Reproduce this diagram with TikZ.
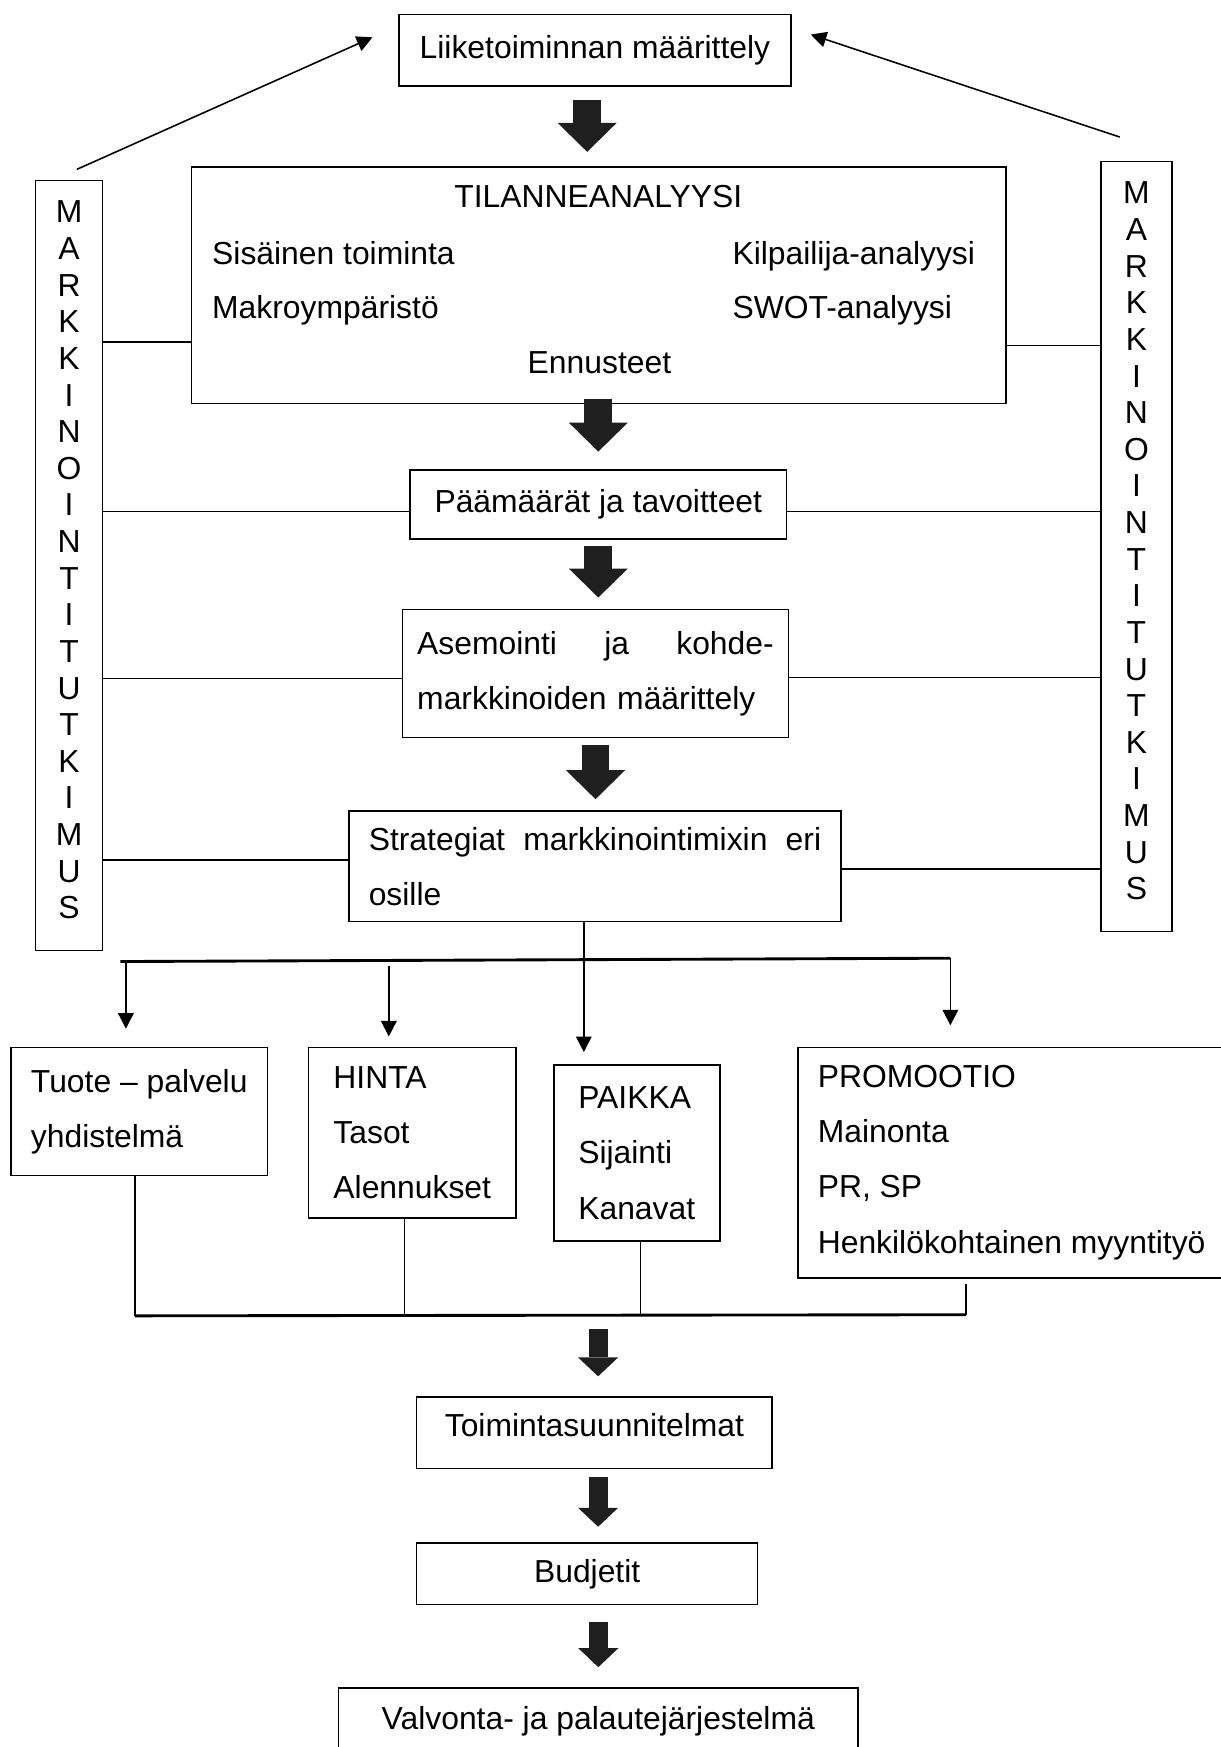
\documentclass[tikz,border=0pt]{standalone}
\usepackage{fontspec}
\setmainfont{Liberation Sans}
\usetikzlibrary{arrows.meta}

\newcommand{\tutkimus}{M\\A\\R\\K\\K\\I\\N\\O\\I\\N\\T\\I\\T\\U\\T\\K\\I\\M\\U\\S}

\tikzset{
  box/.style={draw, line width=0.6pt, inner sep=0pt, align=left},
  link/.style={line width=0.6pt},
  bus/.style={line width=1.1pt},
  bigarrow/.style={draw=black!88, line width=0.375cm,
    -{Triangle[length=0.39cm, width=0.795cm, line width=0pt]}},
  smallarrow/.style={draw=black!88, line width=0.255cm,
    -{Triangle[length=0.255cm, width=0.54cm, line width=0pt]}},
  drop/.style={line width=0.6pt, -{Triangle[length=0.21cm, width=0.21cm]}},
  txt/.style={inner sep=0pt, anchor=base west},
  letters/.style={draw, line width=0.6pt, align=center, minimum height=10.365cm,
    text depth=0.15cm, font=\fontsize{12.2pt}{14.03pt}\selectfont}
}

\begin{document}
\begin{tikzpicture}[x=0.015cm, y=-0.015cm, font=\fontsize{12.2pt}{21.1pt}\selectfont]
\useasboundingbox (0,0) rectangle (1095,1568);

% main column
\node[box, minimum width=5.28cm, minimum height=0.96cm] (liike) at (534,45) {Liiketoiminnan määrittely};
\node[box, minimum width=10.965cm, minimum height=3.18cm] (tilanne) at (537.5,256) {};
\node[txt, anchor=base] (tHead) at (537,186) {TILANNEANALYYSI};
\node[txt] (tSis) at (190,237) {Sisäinen toiminta};
\node[txt] (tKil) at (657,237) {Kilpailija-analyysi};
\node[txt] (tMak) at (190,286) {Makroympäristö};
\node[txt] (tSwot) at (657,286) {SWOT-analyysi};
\node[txt, anchor=base] (tEnn) at (538,335) {Ennusteet};
\node[box, minimum width=5.07cm, minimum height=0.93cm] (paamaarat) at (537,453) {Päämäärät ja tavoitteet};
\node[box, text width=4.8cm, inner xsep=0.2cm, minimum height=1.725cm] (asemointi) at (534.5,604.5)
  {Asemointi\hfill ja\hfill kohde-\\markkinoiden määrittely};
\node[box, text width=6.09cm, inner xsep=0.27cm, minimum height=1.485cm] (strategiat) at (534,777.5)
  {Strategiat\hfill markkinointimixin\hfill eri\\osille};

% side boxes
\node[letters, minimum width=0.9cm] (mtL) at (62,507.5) {\tutkimus};
\node[letters, minimum width=0.96cm] (mtR) at (1020,490.5) {\tutkimus};

% marketing mix
\node[box, minimum width=3.45cm, minimum height=1.725cm] (tuote) at (125,997.5) {Tuote – palvelu\\yhdistelmä};
\node[box, minimum width=2.79cm, minimum height=2.295cm] (hinta) at (370,1016.5) {HINTA\\Tasot\\Alennukset};
\node[box, minimum width=2.235cm, minimum height=2.37cm] (paikka) at (571.5,1035) {PAIKKA\\Sijainti\\Kanavat};
\node[box, minimum width=5.76cm, minimum height=3.105cm] (promootio) at (908,1043.5)
  {PROMOOTIO\\Mainonta\\PR, SP\\Henkilökohtainen myyntityö};

% lower column
\node[box, minimum width=4.785cm, minimum height=0.96cm, text depth=0.21cm] (toiminta) at (533.5,1286) {Toimintasuunnitelmat};
\node[box, minimum width=4.59cm, minimum height=0.825cm] (budjetit) at (527,1412.5) {Budjetit};
\node[box, minimum width=6.99cm, minimum height=0.9cm] (valvonta) at (537,1545) {Valvonta- ja palautejärjestelmä};

% research links
\foreach \n/\yl/\yr in {tilanne/307/310, paamaarat/459/459, asemointi/609/608, strategiat/772/780} {
  \draw[link] (mtL.east |- 0,\yl) -- (\n.west |- 0,\yl);
  \draw[link] (\n.east |- 0,\yr) -- (mtR.west |- 0,\yr);
}
\coordinate (fbL) at (69,152);
\coordinate (fbR) at (1005,123);
\draw[drop] (fbL) -- ([shift={(-23,-11.5)}]liike.west);
\draw[drop] (fbR) -- ([shift={(17,-14)}]liike.east);

% block arrows
\draw[bigarrow, shorten <=0.18cm, shorten >=0.195cm] ([xshift=-0.105cm]liike.south) -- ([xshift=-0.105cm]liike.south |- tilanne.north);
\draw[bigarrow, shorten <=-0.075cm, shorten >=0.24cm] (tilanne.south -| paamaarat.north) -- (paamaarat.north);
\draw[bigarrow, shorten <=0.075cm, shorten >=0.15cm] (paamaarat.south) -- (paamaarat.south |- asemointi.north);
\draw[bigarrow, shorten <=0.09cm, shorten >=0.15cm] (asemointi.south) -- (asemointi.south |- strategiat.north);

% split to the mix
\coordinate (bL) at (108,863);
\coordinate (bR) at (853,860);
\draw[bus] (bL) -- (bR);
\coordinate (dT) at (113,863);
\coordinate (dH) at (349,867);
\coordinate (dP) at (524,862);
\draw[drop, shorten >=0.24cm] (dT) -- (dT |- tuote.north);
\draw[drop, shorten >=0.135cm] (dH) -- (dH |- hinta.north);
\draw[drop, shorten >=0.165cm] (dP |- strategiat.south) -- (dP |- paikka.north);
\draw[drop, shorten >=0.285cm] (bR) -- (bR |- promootio.north);

% join from the mix
\coordinate (cL) at (121,1181);
\coordinate (cR) at (867,1180);
\draw[bus] (cL) -- (cR);
\foreach \n/\x in {tuote/121, hinta/363, paikka/575}
  \draw[link] (\n.south -| \x,0) -- (cL -| \x,0);
\draw[link, shorten <=0.075cm] (promootio.south -| cR) -- (cR);

\draw[smallarrow, shorten <=0.18cm, shorten >=0.27cm] ([xshift=0.05cm]toiminta.north |- cL) -- ([xshift=0.05cm]toiminta.north);
\draw[smallarrow, shorten <=0.105cm, shorten >=0.21cm] ([xshift=0.05cm]toiminta.south) -- ([xshift=0.05cm]toiminta.south |- budjetit.north);
\draw[smallarrow, shorten <=0.225cm, shorten >=0.27cm] (valvonta.north |- budjetit.south) -- (valvonta.north);
\end{tikzpicture}
\end{document}
